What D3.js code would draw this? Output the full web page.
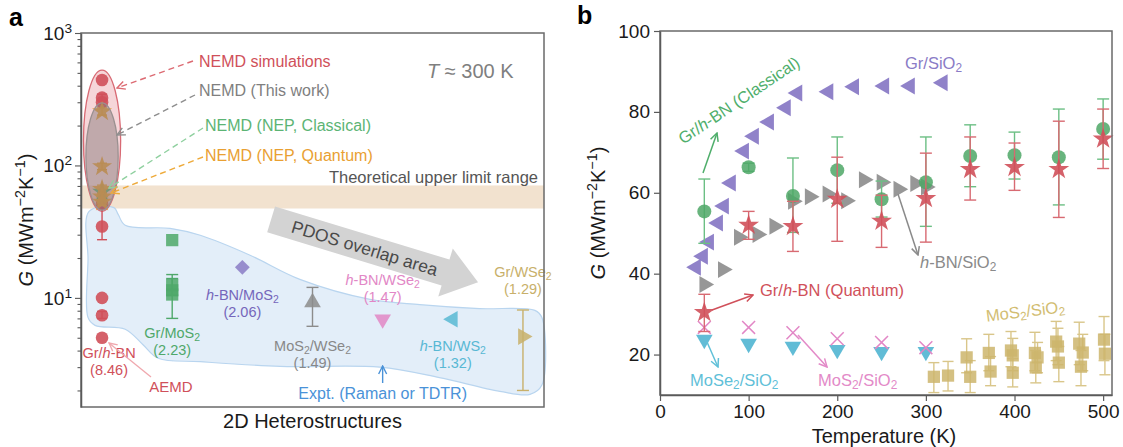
<!DOCTYPE html>
<html><head><meta charset="utf-8">
<script src="https://cdn.jsdelivr.net/npm/d3@7"></script>
<style>
body{margin:0;background:#fff}
svg{display:block;font-family:"Liberation Sans",Arial,Helvetica,sans-serif}
</style>
</head><body>
<svg id="fig" width="1123" height="447"></svg>
<script>
// ---------- Panel a: interfacial conductance at ~300 K ----------
const aCategories = ["Gr/*h*-BN", "Gr/MoS_2", "*h*-BN/MoS_2", "MoS_2/WSe_2", "*h*-BN/WSe_2", "*h*-BN/WS_2", "Gr/WSe_2"];
const aRatios = ["8.46", "2.23", "2.06", "1.49", "1.47", "1.32", "1.29"];
const aTicks = [10, 100, 1000];
const upperLimitBand = [47.3, 70.6];

// NEMD values for Gr/h-BN (category 1)
const nemdCircles = [
  {v: 442}, {v: 325, lo: 290, hi: 345}, {v: 300}, {v: 51},
  {v: 34.6, lo: 27.5, hi: 48}, {v: 10}, {v: 7.4, lo: 7.0, hi: 7.9}, {v: 5.0}
];
const nepQuantumStars = [
  {v: 255, lo: 240, hi: 272}, {v: 98, lo: 93, hi: 104}, {v: 66, lo: 62, hi: 71},
  {v: 58, lo: 55, hi: 62}, {v: 53, lo: 50, hi: 56}
];
const nepClassicalStars = [{v: 63}];

// experimental values (G and error range)
const grMoS2Expt = [{v: 27.3}, {v: 12.5, lo: 10.5, hi: 15}, {v: 11.4}, {v: 10.6, lo: 7.0, hi: 14}];
const hbnMoS2Expt = [{v: 17}];
const mos2WSe2Expt = [{v: 9.25, lo: 6.1, hi: 12}];
const hbnWSe2Expt = [{v: 6.9}];
const hbnWS2Expt = [{v: 6.9}];
const grWSe2Expt = [{v: 5.1, lo: 2.0, hi: 8.1}];

// outline of the experimental region, in (category position, G)
const exptRegion = [
  [0.815, 45], [0.80, 19.5], [0.80, 7.1], [0.90, 6.2], [1.33, 5.8], [1.58, 4.45],
  [1.80, 3.5], [2.40, 3.3], [3.54, 3.04], [4.96, 3.0], [5.81, 2.5], [6.67, 1.97],
  [7.10, 1.87], [7.27, 2.2], [7.27, 7.1], [7.17, 8.05], [6.38, 8.3], [5.53, 8.9],
  [4.82, 9.75], [3.82, 13.8], [3.11, 21], [2.40, 29.7], [1.97, 33.5], [1.33, 35.3],
  [1.23, 42.7], [1.17, 48]
];

// ---------- Panel b: temperature dependence ----------
const bTicksX = [0, 100, 200, 300, 400, 500];
const bTicksY = [20, 40, 60, 80, 100];

const grSiO2 = [
  [40.6, 41.6], [48.5, 44.3], [55.3, 47.8], [65.5, 52.5], [72.2, 56.7], [80, 62.4],
  [94.8, 70.3], [106, 74], [123, 77.5], [142, 81], [155, 84.7], [190, 85],
  [219, 86.2], [253, 86.4], [282, 86.4], [319, 87.2]
];
const hbnSiO2 = [
  [50, 37.3], [71, 41], [89, 49], [110, 49.7], [129, 51.7], [150, 57.9], [169, 59],
  [189, 59.7], [210, 58], [230, 63.2], [250, 62.6], [269, 60.9], [288, 62.3], [300, 61.4]
];
// [T, G, lower, upper]
const grhbnClassical = [
  [50, 55.4, 47.5, 63.4], [100, 66.3, 65.3, 67.3], [150, 59.2, 50.2, 68.6],
  [200, 65.6, 57.4, 73.8], [250, 58.4, 54, 62.9], [300, 62.6, 51.7, 73.8],
  [350, 69.1, 61.5, 76.8], [400, 69.3, 63.4, 75], [450, 68.8, 57, 80.7],
  [500, 75.8, 68.3, 83.2]
];
const grhbnQuantum = [
  [50, 30.4, 25.7, 34.9], [100, 52, 48.5, 55.4], [150, 51.7, 45.5, 57.9],
  [200, 58.4, 48, 68.8], [250, 53, 46.5, 59.4], [300, 58.6, 47.8, 69.8],
  [350, 65.8, 58.2, 73.8], [400, 66.3, 60.6, 72.3], [450, 65.8, 53.9, 77.7],
  [500, 73.3, 66, 80.7]
];
const mos2SiO2Sim = [[50, 26.7], [100, 26.7], [150, 25.4], [200, 23.9], [250, 23], [300, 21.7]];
const mose2SiO2Sim = [[50, 23.7], [100, 22.7], [150, 22], [200, 21.2], [250, 20.7], [300, 20.7]];
const mos2SiO2Expt = [
  [309, 14.5, 10.6, 18], [325, 14.8, 11, 18.3], [346, 19.3, 15.5, 23.9], [350, 14.5, 10.6, 18.5],
  [371, 20.4, 16, 25], [373, 15.8, 12.3, 19.5], [396, 21, 17, 25.7], [398, 19.8, 16, 24],
  [398, 15.5, 12, 19], [423, 20.4, 16, 25.5], [426, 19.3, 15.5, 23], [424, 16.8, 13, 21],
  [447, 23.2, 18.5, 28.2], [449, 22, 17.5, 26.5], [450, 18, 13.3, 22], [473, 22.7, 17.5, 28],
  [477, 20.5, 16, 25], [475, 17, 12.3, 21], [501, 23.7, 18.5, 29.4], [502, 20.2, 15, 25]
];

// ---------- colours ----------
const C = {
  red: "#d0505a", green: "#55ad6c", orange: "#e9a032", gray: "#8c8c8c",
  purple: "#8a7bc6", pink: "#e287c6", cyan: "#58b8d4", khaki: "#cdb56c",
  blue: "#4a92d8", axis: "#5a5a5a", text: "#1a1a1a"
};

const svg = d3.select("#fig");
const defs = svg.append("defs");

// small markup: *italic*, _x subscript (one char), ^{..} superscript
function rich(sel, str, fs) {
  const re = /(\*[^*]+\*|_[^\s/]|\^\{[^}]+\})/g;
  str.split(re).filter(s => s !== "").forEach(s => {
    const ts = sel.append("tspan");
    if (s.startsWith("*")) ts.text(s.slice(1, -1)).attr("font-style", "italic");
    else if (s.startsWith("_")) ts.text(s.slice(1)).attr("baseline-shift", -(fs * 0.18).toFixed(1)).attr("font-size", fs * 0.72);
    else if (s.startsWith("^{")) ts.text(s.slice(2, -1)).attr("baseline-shift", (fs * 0.38).toFixed(1)).attr("font-size", fs * 0.72);
    else ts.text(s);
  });
  return sel;
}
function label(g, x, y, str, opt) {
  const fs = opt.fs || 16;
  const t = g.append("text").attr("x", x).attr("y", y).attr("dy", "0.35em")
    .attr("font-size", fs).attr("fill", opt.color || C.text)
    .attr("text-anchor", opt.anchor || "start");
  if (opt.rotate) t.attr("transform", `rotate(${opt.rotate},${x},${y})`);
  return rich(t, str, fs);
}
let mk = 0;
function arrowMarker(color, w) {
  const id = "ah" + (mk++);
  defs.append("marker").attr("id", id).attr("viewBox", "0 0 10 10")
    .attr("refX", 9).attr("refY", 5).attr("markerWidth", 10).attr("markerHeight", 10)
    .attr("markerUnits", "userSpaceOnUse").attr("orient", "auto")
    .append("path").attr("d", "M1,1 L9,5 L1,9").attr("fill", "none")
    .attr("stroke", color).attr("stroke-width", w || 1.4);
  return `url(#${id})`;
}
function arrow(g, x1, y1, x2, y2, color, dash, w) {
  g.append("line").attr("x1", x1).attr("y1", y1).attr("x2", x2).attr("y2", y2)
    .attr("stroke", color).attr("stroke-width", w || 1.5)
    .attr("stroke-dasharray", dash ? "6,4" : null)
    .attr("marker-end", arrowMarker(color, w || 1.5));
}
function sym(type, size) { return d3.symbol().type(type).size(size)(); }
function errbar(g, x, lo, hi, color, cap, w) {
  g.append("line").attr("x1", x).attr("x2", x).attr("y1", lo).attr("y2", hi)
    .attr("stroke", color).attr("stroke-width", w || 1.5);
  [lo, hi].forEach(y => g.append("line").attr("x1", x - cap).attr("x2", x + cap)
    .attr("y1", y).attr("y2", y).attr("stroke", color).attr("stroke-width", w || 1.5));
}

// =================== Panel a ===================
const A = {l: 81, r: 544, t: 33, b: 407};
const xA = d3.scaleLinear().domain([0.7, 7.3]).range([A.l, A.r]);
const yA = d3.scaleLog().domain([1.5, 1000]).range([A.b, A.t]);
const ga = svg.append("g");

// theoretical upper limit band
ga.append("rect").attr("x", A.l).attr("width", A.r - A.l)
  .attr("y", yA(upperLimitBand[1])).attr("height", yA(upperLimitBand[0]) - yA(upperLimitBand[1]))
  .attr("fill", "#f2e2cf");

// experimental region
ga.append("path")
  .attr("d", d3.line().x(d => xA(d[0])).y(d => yA(d[1])).curve(d3.curveCatmullRomClosed.alpha(0.5))(exptRegion))
  .attr("fill", "#e3eef9").attr("stroke", "#b9d5ef").attr("stroke-width", 1.2);

// NEMD envelope
function ellipse(g, cx, top, bottom, rx, fill, op, stroke) {
  const y1 = yA(top), y2 = yA(bottom);
  g.append("ellipse").attr("cx", xA(cx)).attr("cy", (y1 + y2) / 2)
    .attr("rx", xA(cx + rx) - xA(cx)).attr("ry", (y2 - y1) / 2)
    .attr("fill", fill).attr("fill-opacity", op).attr("stroke", stroke).attr("stroke-width", 1.3);
}
ellipse(ga, 1, 525, 45, 0.265, "#e58a92", 0.35, "#d86a74");

// PDOS overlap arrow
(function () {
  const x0 = xA(3.41), y0 = yA(39.1), x1 = xA(6.36), y1 = yA(13.1);
  const ang = Math.atan2(y1 - y0, x1 - x0), L = Math.hypot(x1 - x0, y1 - y0);
  const sw = 13.5, hw = 25, hl = 34;
  const pts = [[0, -sw], [L - hl, -sw], [L - hl, -hw], [L, 0], [L - hl, hw], [L - hl, sw], [0, sw]];
  ga.append("polygon").attr("points", pts.map(p => p.join(",")).join(" "))
    .attr("transform", `translate(${x0},${y0}) rotate(${ang * 180 / Math.PI})`)
    .attr("fill", "#d3d3d3");
  ga.append("text").attr("transform", `translate(${x0},${y0}) rotate(${ang * 180 / Math.PI})`)
    .attr("x", 22).attr("y", 0).attr("dy", "0.36em").attr("font-size", 17.5).attr("fill", "#4a4a4a")
    .text("PDOS overlap area");
})();

// markers: NEMD (Gr/h-BN)
nemdCircles.forEach(d => { if (d.lo) errbar(ga, xA(1), yA(d.lo), yA(d.hi), C.red, 5, 1.4); });
nemdCircles.forEach(d => ga.append("circle").attr("cx", xA(1)).attr("cy", yA(d.v)).attr("r", 6.3)
  .attr("fill", C.red).attr("fill-opacity", 0.9));
nepQuantumStars.forEach(d => { if (d.lo) errbar(ga, xA(1), yA(d.lo), yA(d.hi), C.orange, 5, 1.3); });
nepClassicalStars.forEach(d => ga.append("path").attr("d", sym(d3.symbolStar, 120))
  .attr("transform", `translate(${xA(1)},${yA(d.v)})`).attr("fill", C.green).attr("fill-opacity", 0.85));
nepQuantumStars.forEach(d => ga.append("path").attr("d", sym(d3.symbolStar, 125))
  .attr("transform", `translate(${xA(1)},${yA(d.v)})`).attr("fill", C.orange).attr("fill-opacity", 0.9));

// "This work" envelope on top
ellipse(ga, 1, 297, 46, 0.23, "#85777a", 0.48, "#9a9090");

// experimental markers
function exptSeries(data, cat, type, size, rot, color) {
  data.forEach(d => { if (d.lo) errbar(ga, xA(cat), yA(d.lo), yA(d.hi), color, 6, 1.4); });
  data.forEach(d => ga.append("path").attr("d", sym(type, size))
    .attr("transform", `translate(${xA(cat)},${yA(d.v)}) rotate(${rot})`)
    .attr("fill", color).attr("fill-opacity", 0.85));
}
exptSeries(grMoS2Expt, 2, d3.symbolSquare, 150, 0, "#4fa86a");
exptSeries(hbnMoS2Expt, 3, d3.symbolSquare, 110, 45, C.purple);
exptSeries(mos2WSe2Expt, 4, d3.symbolTriangle, 120, 0, C.gray);
exptSeries(hbnWSe2Expt, 5, d3.symbolTriangle, 120, 180, C.pink);
exptSeries(hbnWS2Expt, 6, d3.symbolTriangle, 120, -90, C.cyan);
exptSeries(grWSe2Expt, 7, d3.symbolTriangle, 120, 90, "#c8b06a");

// category labels (name + ratio)
const catLabelX = [1.1, 2, 3, 4, 5, 6, 7];
const catLabelY = [353, 333, 295, 346, 280, 346, 272];
const catColors = [C.red, "#4fa86a", "#7566bb", "#888", C.pink, C.cyan, "#c8b06a"];
aCategories.forEach((c, i) => {
  label(ga, xA(catLabelX[i]), catLabelY[i], c, {fs: 14.5, color: catColors[i], anchor: "middle"});
  label(ga, xA(catLabelX[i]), catLabelY[i] + 17, `(${aRatios[i]})`, {fs: 14.5, color: catColors[i], anchor: "middle"});
});
label(ga, 171, 387, "AEMD", {fs: 15, color: C.red, anchor: "middle"});
arrow(ga, 151, 377, 109, 343, "#f0a8ae", false, 1.3);

label(ga, xA(5), 393, "Expt. (Raman or TDTR)", {fs: 16, color: C.blue, anchor: "middle"});
arrow(ga, xA(5), 383, xA(5), 366, C.blue, false, 1.4);

// dashed callouts
label(ga, 199, 61, "NEMD simulations", {fs: 16, color: C.red});
label(ga, 199, 90, "NEMD (This work)", {fs: 16, color: "#7f7f7f"});
label(ga, 205, 125, "NEMD (NEP, Classical)", {fs: 16, color: "#5cb474"});
label(ga, 205, 155, "NEMD (NEP, Quantum)", {fs: 16, color: C.orange});
arrow(ga, 193, 61, 117, 88, "#dc6a72", true, 1.4);
arrow(ga, 195, 95, 117, 135, "#8d8d8d", true, 1.4);
arrow(ga, 203, 128, 109, 188, "#8fd09f", true, 1.4);
arrow(ga, 203, 157, 111, 193, "#eeaa3a", true, 1.4);

label(ga, 538, 177, "Theoretical upper limit range", {fs: 16.5, color: "#555", anchor: "end"});
label(ga, 427, 71, "*T* ≈ 300 K", {fs: 20, color: "#7f7f7f"});

// axes of panel a
ga.append("rect").attr("x", A.l).attr("y", A.t).attr("width", A.r - A.l).attr("height", A.b - A.t)
  .attr("fill", "none").attr("stroke", "#6a6a6a").attr("stroke-width", 1.5);
const minorA = [];
[1, 10, 100].forEach(p => d3.range(1, 10).forEach(m => { const v = p * m; if (v >= 1.5 && v <= 1000) minorA.push(v); }));
minorA.push(1000);
const yAxisA = ga.append("g").attr("transform", `translate(${A.l},0)`)
  .call(d3.axisLeft(yA).tickValues(minorA).tickFormat(() => "").tickSizeOuter(0));
yAxisA.select(".domain").attr("stroke", C.axis).attr("stroke-width", 1.5);
yAxisA.selectAll(".tick line").attr("stroke", C.axis).attr("stroke-width", 1.1)
  .attr("x2", d => aTicks.includes(d) ? -6 : -3.5);
aTicks.forEach(v => {
  const t = ga.append("text").attr("x", A.l - 9).attr("y", yA(v)).attr("dy", "0.35em")
    .attr("text-anchor", "end").attr("font-size", 19).attr("fill", C.text);
  rich(t, `10^{${Math.round(Math.log10(v))}}`, 19);
});
label(ga, 26, (A.t + A.b) / 2, "*G* (MWm^{−2}K^{−1})", {fs: 20, anchor: "middle", rotate: -90});
label(ga, (A.l + A.r) / 2, 421, "2D Heterostructures", {fs: 20, anchor: "middle"});
svg.append("text").attr("x", 9).attr("y", 26).attr("font-size", 25).attr("font-weight", "bold").text("a");

// =================== Panel b ===================
const B = {l: 660, r: 1112, t: 31, b: 395};
const xB = d3.scaleLinear().domain([0, 510]).range([B.l, B.r]);
const yB = d3.scaleLinear().domain([10, 100]).range([B.b, B.t]);
const gb = svg.append("g");

function pts(g, data, type, size, rot, color, op) {
  data.forEach(d => g.append("path").attr("d", sym(type, size))
    .attr("transform", `translate(${xB(d[0])},${yB(d[1])}) rotate(${rot})`)
    .attr("fill", color).attr("fill-opacity", op));
}

// MoS2/SiO2 experiment
mos2SiO2Expt.forEach(d => errbar(gb, xB(d[0]), yB(d[2]), yB(d[3]), "#d9c68a", 5.5, 1.4));
pts(gb, mos2SiO2Expt, d3.symbolSquare, 150, 0, C.khaki, 0.85);

// MoSe2/SiO2 and MoS2/SiO2 simulations
pts(gb, mose2SiO2Sim, d3.symbolTriangle, 120, 180, C.cyan, 0.95);
mos2SiO2Sim.forEach(d => gb.append("path").attr("d", sym(d3.symbolTimes, 110))
  .attr("transform", `translate(${xB(d[0])},${yB(d[1])})`)
  .attr("fill", "none").attr("stroke", C.pink).attr("stroke-width", 1.5));

// substrate series
pts(gb, grSiO2, d3.symbolTriangle, 125, -90, C.purple, 0.95);
pts(gb, hbnSiO2, d3.symbolTriangle, 125, 90, C.gray, 0.9);

// Gr/h-BN classical and quantum
grhbnClassical.forEach(d => errbar(gb, xB(d[0]), yB(d[2]), yB(d[3]), "#6cbf84", 6, 1.4));
grhbnClassical.forEach(d => gb.append("circle").attr("cx", xB(d[0])).attr("cy", yB(d[1]))
  .attr("r", 7).attr("fill", "#4ea766").attr("fill-opacity", 0.85));
grhbnQuantum.forEach(d => errbar(gb, xB(d[0]), yB(d[2]), yB(d[3]), "#d86a72", 6, 1.4));
pts(gb, grhbnQuantum, d3.symbolStar, 135, 0, C.red, 0.9);

// annotations
label(gb, 905, 63, "Gr/SiO_2", {fs: 16.5, color: C.purple});
label(gb, 680, 140, "Gr/*h*-BN (Classical)", {fs: 16.5, color: "#4fae6b", rotate: -34});
arrow(gb, 703, 173, 717, 133, "#4fae6b", false, 1.5);
label(gb, 760, 290, "Gr/*h*-BN (Quantum)", {fs: 16.5, color: C.red});
arrow(gb, 712, 310, 753, 295, C.red, false, 1.5);
label(gb, 920, 262, "*h*-BN/SiO_2", {fs: 16.5, color: "#8a8a8a"});
arrow(gb, 898, 194, 918, 255, "#8a8a8a", false, 1.5);
label(gb, 986, 316, "MoS_2/SiO_2", {fs: 16.5, color: "#d2bd72", rotate: -7});
label(gb, 690, 380, "MoSe_2/SiO_2", {fs: 16.5, color: "#5fc0d8"});
arrow(gb, 707, 342, 718, 367, "#5fc0d8", false, 1.5);
label(gb, 818, 380, "MoS_2/SiO_2", {fs: 16.5, color: "#e38ac8"});
arrow(gb, 798, 335, 827, 367, "#e38ac8", false, 1.5);

// axes of panel b
gb.append("rect").attr("x", B.l).attr("y", B.t).attr("width", B.r - B.l).attr("height", B.b - B.t)
  .attr("fill", "none").attr("stroke", "#6a6a6a").attr("stroke-width", 1.5);
const xAxisB = gb.append("g").attr("transform", `translate(0,${B.b})`)
  .call(d3.axisBottom(xB).tickValues(bTicksX).tickSize(6).tickPadding(4).tickSizeOuter(0));
const yAxisB = gb.append("g").attr("transform", `translate(${B.l},0)`)
  .call(d3.axisLeft(yB).tickValues(bTicksY).tickSize(6).tickPadding(4).tickSizeOuter(0));
[xAxisB, yAxisB].forEach(ax => {
  ax.select(".domain").attr("stroke", C.axis).attr("stroke-width", 1.5);
  ax.selectAll(".tick line").attr("stroke", C.axis).attr("stroke-width", 1.2);
  ax.selectAll(".tick text").attr("font-size", 19).attr("fill", C.text)
    .attr("font-family", '"Liberation Sans",Arial,sans-serif');
});
label(gb, 598, (B.t + B.b) / 2, "*G* (MWm^{−2}K^{−1})", {fs: 20, anchor: "middle", rotate: -90});
label(gb, (B.l + B.r) / 2 - 2, 436, "Temperature (K)", {fs: 20, anchor: "middle"});
svg.append("text").attr("x", 577).attr("y", 24).attr("font-size", 25).attr("font-weight", "bold").text("b");
</script>
</body></html>
